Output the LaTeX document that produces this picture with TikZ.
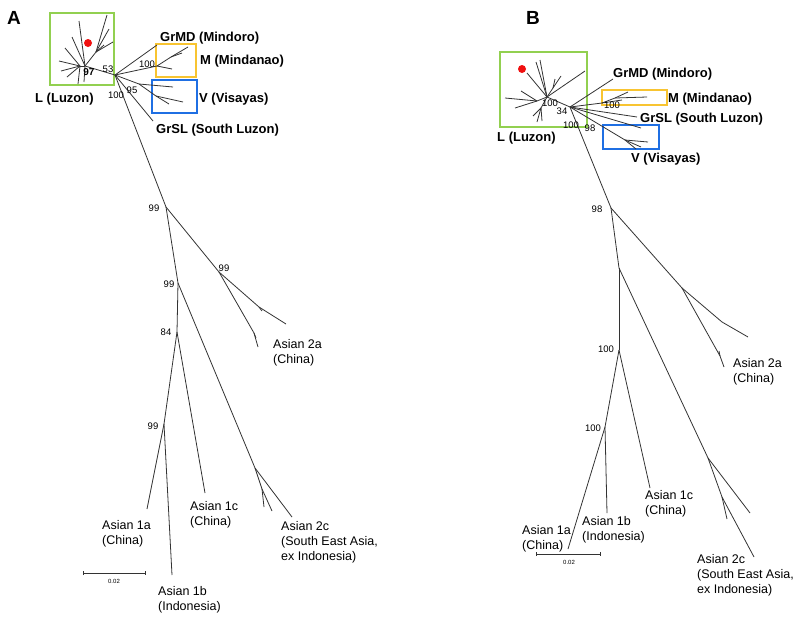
\documentclass[tikz,border=0pt]{standalone}
\usepackage{fontspec}
\setmainfont{Liberation Sans}
\usepackage{tikz}
\usetikzlibrary{arrows.meta, positioning}
\definecolor{Ink}{HTML}{333333}
\definecolor{LuzonGreen}{HTML}{92D050}
\definecolor{MindanaoGold}{HTML}{F8C431}
\definecolor{VisayasBlue}{HTML}{1F6FE3}
\definecolor{Dot}{HTML}{F01010}

\begin{document}
\begin{tikzpicture}[
          x=1pt, y=-1pt,
          branch/.style={draw=Ink, line width=0.8pt},
          cladebox/.style={line width=2.4pt},
          clade/.style={anchor=west, inner sep=0pt, font=\fontsize{13}{15}\selectfont\bfseries},
          leaf/.style={anchor=north west, inner sep=0pt, align=left, font=\fontsize{12.5}{15}\selectfont},
          boot/.style={inner sep=0pt, font=\fontsize{9.5}{11}\selectfont},
          panel/.style={inner sep=0pt, font=\fontsize{19}{21}\selectfont\bfseries},
          scalebar/.style={draw=Ink, line width=0.8pt, {Bar[width=4pt]}-{Bar[width=4pt]}},
          reddot/.style={circle, fill=Dot, minimum size=8pt, inner sep=0pt}
        ]
          \useasboundingbox (0,0) rectangle (797,616);

          % panel A
          \node[panel] (pA) at (14,18) {A};
          \draw[cladebox, LuzonGreen] (50,13) rectangle (114,85);
          \draw[cladebox, MindanaoGold] (156,44) rectangle (196,77);
          \draw[cladebox, VisayasBlue] (152,80) rectangle (197,113);
          \node[reddot] (aDot) at (88,43) {};

          \coordinate (aR) at (115,75);
          \coordinate (aL) at (85,66);
          \coordinate (aLw) at (80,66);
          \coordinate (aLn) at (96,52);
          \coordinate (aM) at (157,66);
          \coordinate (aMs) at (171,57);
          \coordinate (aV1) at (139,84);
          \coordinate (aV) at (156,96);
          \coordinate (a99) at (166,207);
          \coordinate (a2a) at (219,272);
          \coordinate (a2ak) at (259,307);
          \coordinate (a2ab) at (254,333);
          \coordinate (a99b) at (178,283);
          \coordinate (a84) at (177,332);
          \coordinate (a2c) at (255,468);
          \coordinate (a2cb) at (262,489);
          \coordinate (a99c) at (164,424);

          \coordinate (aGrMD) at (157,45);
          \coordinate (aGrSL) at (153,121);
          \coordinate (aM1) at (188,47);
          \coordinate (aM2) at (182,53);
          \coordinate (aM3) at (172,69);
          \coordinate (aV2) at (173,87);
          \coordinate (aV3) at (183,102);
          \coordinate (aV4) at (169,104);
          \coordinate (a2a1) at (286,324);
          \coordinate (a2a2) at (262,311);
          \coordinate (a2a3) at (258,347);
          \coordinate (a2a4) at (256,338);
          \coordinate (a2c1) at (292,517);
          \coordinate (a2c2) at (272,511);
          \coordinate (a2c3) at (264,507);
          \coordinate (a1a) at (147,509);
          \coordinate (a1b) at (172,575);
          \coordinate (a1c) at (205,493);

          \draw[branch] (aR) -- (aL);
          \draw[branch] (aL) -- (aLw);
          \draw[branch] (aL) -- (aLn);
          \foreach \n/\x/\y in {1/79/21, 2/72/37, 3/84/82}
            {\coordinate (aLa\n) at (\x,\y); \draw[branch] (aL) -- (aLa\n);}
          \foreach \n/\x/\y in {1/65/48, 2/59/61, 3/61/71, 4/67/77, 5/78/84}
            {\coordinate (aLb\n) at (\x,\y); \draw[branch] (aLw) -- (aLb\n);}
          \foreach \n/\x/\y in {1/107/15, 2/113/42, 3/109/29, 4/104/45}
            {\coordinate (aLc\n) at (\x,\y); \draw[branch] (aLn) -- (aLc\n);}

          \draw[branch] (aR) -- (aGrMD);
          \draw[branch] (aR) -- (aM);
          \draw[branch] (aM) -- (aMs) -- (aM1);
          \draw[branch] (aMs) -- (aM2);
          \draw[branch] (aM) -- (aM3);
          \draw[branch] (aR) -- (aV1) -- (aV2);
          \draw[branch] (aV1) -- (aV) -- (aV3);
          \draw[branch] (aV) -- (aV4);
          \draw[branch] (aR) -- (aGrSL);

          \draw[branch] (aR) -- (a99);
          \draw[branch] (a99) -- (a2a);
          \draw[branch] (a2a) -- (a2ak) -- (a2a1);
          \draw[branch] (a2ak) -- (a2a2);
          \draw[branch] (a2a) -- (a2ab) -- (a2a3);
          \draw[branch] (a2ab) -- (a2a4);
          \draw[branch] (a99) -- (a99b);
          \draw[branch] (a99b) -- (a84);
          \draw[branch] (a99b) -- (a2c) -- (a2c1);
          \draw[branch] (a2c) -- (a2cb) -- (a2c2);
          \draw[branch] (a2cb) -- (a2c3);
          \draw[branch] (a84) -- (a99c);
          \draw[branch] (a99c) -- (a1a);
          \draw[branch] (a99c) -- (a1b);
          \draw[branch] (a84) -- (a1c);

          \node[boot, font=\fontsize{10}{12}\selectfont\bfseries] (bA97) at (89,72) {97};
          \node[boot] (bA53) at (108,69) {53};
          \node[boot] (bAM) at (147,64) {100};
          \node[boot] (bAV) at (132,90) {95};
          \node[boot] (bAR) at (116,95) {100};
          \node[boot] (bA99a) at (154,208) {99};
          \node[boot] (bA99b) at (224,268) {99};
          \node[boot] (bA99c) at (169,284) {99};
          \node[boot] (bA84) at (166,332) {84};
          \node[boot] (bA99d) at (153,426) {99};

          \node[clade] (cAL) at (35,99) {L (Luzon)};
          \node[clade] (cAGrMD) at (160,38) {GrMD (Mindoro)};
          \node[clade] (cAM) at (200,61) {M (Mindanao)};
          \node[clade] (cAV) at (199,99) {V (Visayas)};
          \node[clade] (cAGrSL) at (156,130) {GrSL (South Luzon)};

          \node[leaf] (lA2a) at (273,339.5) {Asian 2a\\(China)};
          \node[leaf] (lA1a) at (102,520.5) {Asian 1a\\(China)};
          \node[leaf] (lA1c) at (190,501.5) {Asian 1c\\(China)};
          \node[leaf] (lA1b) at (158,586.5) {Asian 1b\\(Indonesia)};
          \node[leaf] (lA2c) at (281,521.5) {Asian 2c\\(South East Asia,\\ex Indonesia)};

          \coordinate (sA0) at (83,573);
          \coordinate (sA1) at (146,573);
          \draw[scalebar] (sA0) -- (sA1);
          \node[inner sep=0pt, font=\fontsize{6}{7}\selectfont] (sAt) at (114,581) {0.02};

          % panel B
          \node[panel] (pB) at (533,18) {B};
          \draw[cladebox, LuzonGreen] (500,52) rectangle (587,127);
          \draw[cladebox, MindanaoGold] (602,90) rectangle (667,105);
          \draw[cladebox, VisayasBlue] (603,125) rectangle (659,149);
          \node[reddot] (bDot) at (522,69) {};

          \coordinate (bR) at (570,107);
          \coordinate (bL) at (547,97);
          \coordinate (bLs) at (553,88);
          \coordinate (bLw) at (537,101);
          \coordinate (bLd) at (541,108);
          \coordinate (bM) at (602,103);
          \coordinate (bMs) at (615,98);
          \coordinate (bV) at (625,140);
          \coordinate (b98) at (611,208);
          \coordinate (b2a) at (682,288);
          \coordinate (b2ak) at (722,322);
          \coordinate (b2ab) at (720,356);
          \coordinate (bN) at (619,268);
          \coordinate (b100) at (619,350);
          \coordinate (b2c) at (708,458);
          \coordinate (b2cb) at (722,497);
          \coordinate (b100b) at (605,427);

          \coordinate (bGrMD) at (613,79);
          \coordinate (bGrSL) at (637,117);
          \coordinate (bM1) at (628,92);
          \coordinate (bM2) at (647,97);
          \coordinate (bM3) at (622,100);
          \coordinate (bV1) at (641,128);
          \coordinate (bV2) at (648,142);
          \coordinate (bV3) at (636,149);
          \coordinate (bV4) at (641,147);
          \coordinate (b2a1) at (748,337);
          \coordinate (b2a2) at (724,367);
          \coordinate (b2a3) at (719,351);
          \coordinate (b2c1) at (750,513);
          \coordinate (b2c2) at (727,519);
          \coordinate (b2c3) at (754,557);
          \coordinate (b1a) at (568,549);
          \coordinate (b1b) at (607,513);
          \coordinate (b1c) at (650,488);

          \draw[branch] (bR) -- (bL);
          \draw[branch] (bL) -- (bLs);
          \draw[branch] (bL) -- (bLw);
          \draw[branch] (bL) -- (bLd);
          \foreach \n/\x/\y in {1/540/60, 2/536/62, 3/585/71, 4/527/73}
            {\coordinate (bLa\n) at (\x,\y); \draw[branch] (bL) -- (bLa\n);}
          \foreach \n/\x/\y in {1/561/76, 2/555/79}
            {\coordinate (bLb\n) at (\x,\y); \draw[branch] (bLs) -- (bLb\n);}
          \foreach \n/\x/\y in {1/505/98, 2/515/108, 3/521/91}
            {\coordinate (bLc\n) at (\x,\y); \draw[branch] (bLw) -- (bLc\n);}
          \foreach \n/\x/\y in {1/537/122, 2/542/121, 3/533/116}
            {\coordinate (bLd\n) at (\x,\y); \draw[branch] (bLd) -- (bLd\n);}

          \draw[branch] (bR) -- (bGrMD);
          \draw[branch] (bR) -- (bM);
          \draw[branch] (bM) -- (bMs) -- (bM1);
          \draw[branch] (bMs) -- (bM2);
          \draw[branch] (bM) -- (bM3);
          \draw[branch] (bR) -- (bGrSL);
          \draw[branch] (bR) -- (bV1);
          \draw[branch] (bR) -- (bV) -- (bV2);
          \draw[branch] (bV) -- (bV3);
          \draw[branch] (bV) -- (bV4);

          \draw[branch] (bR) -- (b98);
          \draw[branch] (b98) -- (b2a);
          \draw[branch] (b2a) -- (b2ak) -- (b2a1);
          \draw[branch] (b2a) -- (b2ab) -- (b2a2);
          \draw[branch] (b2ab) -- (b2a3);
          \draw[branch] (b98) -- (bN);
          \draw[branch] (bN) -- (b100);
          \draw[branch] (bN) -- (b2c) -- (b2c1);
          \draw[branch] (b2c) -- (b2cb) -- (b2c2);
          \draw[branch] (b2cb) -- (b2c3);
          \draw[branch] (b100) -- (b100b);
          \draw[branch] (b100b) -- (b1a);
          \draw[branch] (b100b) -- (b1b);
          \draw[branch] (b100) -- (b1c);

          \node[boot] (bB100a) at (550,103) {100};
          \node[boot] (bB34) at (562,111) {34};
          \node[boot] (bBM) at (612,105) {100};
          \node[boot] (bBR) at (571,125) {100};
          \node[boot] (bB98a) at (590,128) {98};
          \node[boot] (bB98b) at (597,209) {98};
          \node[boot] (bB100b) at (606,349) {100};
          \node[boot] (bB100c) at (593,428) {100};

          \node[clade] (cBL) at (497,138) {L (Luzon)};
          \node[clade] (cBGrMD) at (613,74) {GrMD (Mindoro)};
          \node[clade] (cBM) at (668,99) {M (Mindanao)};
          \node[clade] (cBGrSL) at (640,119) {GrSL (South Luzon)};
          \node[clade] (cBV) at (631,159) {V (Visayas)};

          \node[leaf] (lB2a) at (733,358.5) {Asian 2a\\(China)};
          \node[leaf] (lB1a) at (522,525.5) {Asian 1a\\(China)};
          \node[leaf] (lB1b) at (582,516.5) {Asian 1b\\(Indonesia)};
          \node[leaf] (lB1c) at (645,490.5) {Asian 1c\\(China)};
          \node[leaf] (lB2c) at (697,554.5) {Asian 2c\\(South East Asia,\\ex Indonesia)};

          \coordinate (sB0) at (536,554);
          \coordinate (sB1) at (601,554);
          \draw[scalebar] (sB0) -- (sB1);
          \node[inner sep=0pt, font=\fontsize{6}{7}\selectfont] (sBt) at (569,562) {0.02};
        \end{tikzpicture}
\end{document}
